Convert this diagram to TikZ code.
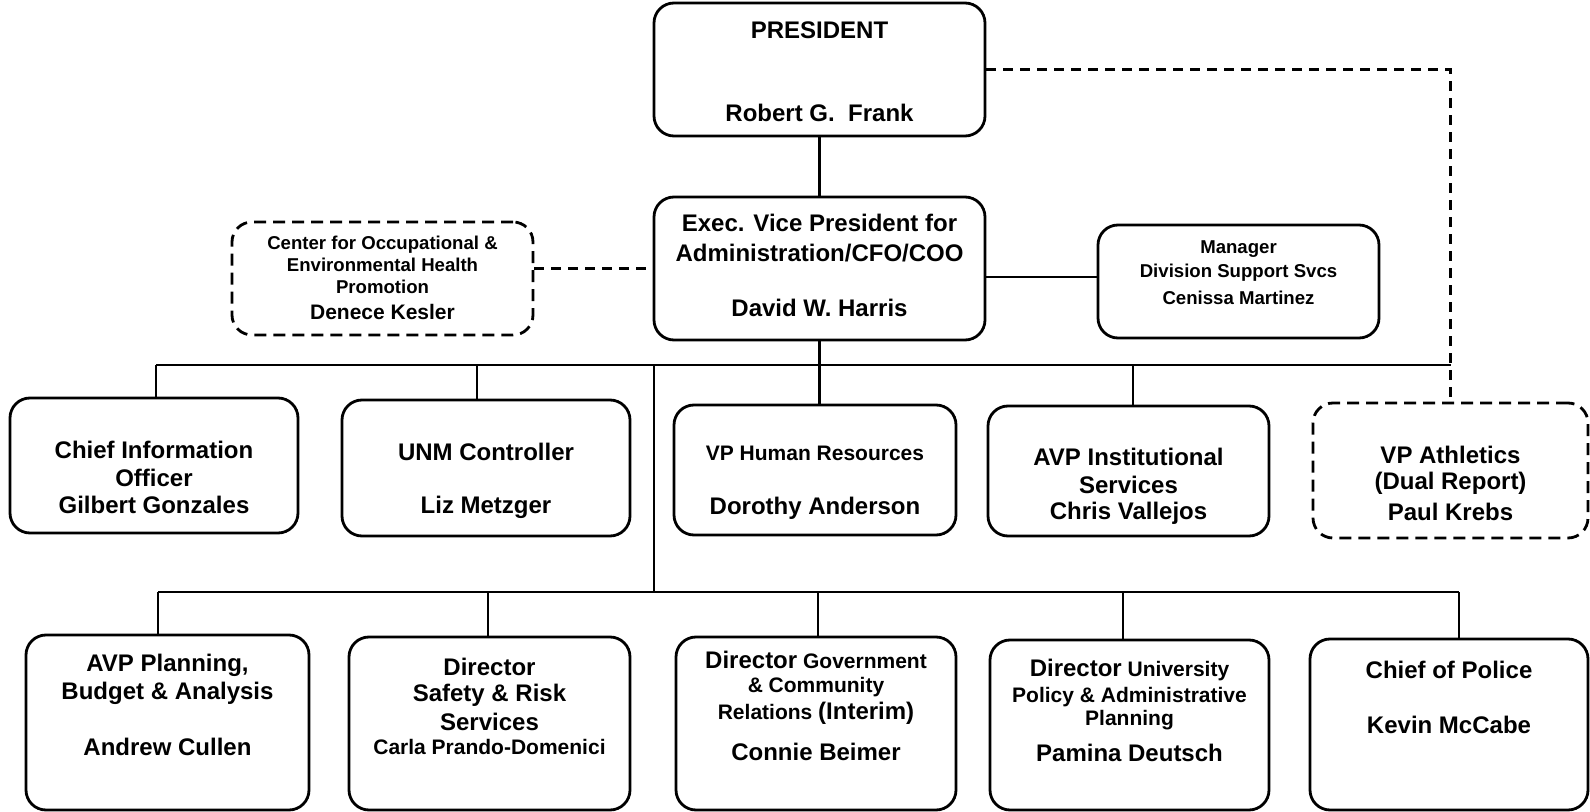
\documentclass[tikz,border=0pt]{standalone}
\usepackage{fontspec}
\setmainfont{Liberation Sans}
\usetikzlibrary{fit}
\newcommand\fsz[1]{\fontsize{#1}{#1}\selectfont}
\begin{document}
\begin{tikzpicture}[x=0.5pt,y=-0.5pt,
  box/.style={draw,line width=1.4pt,rounded corners=10pt,inner sep=0pt},
  dbox/.style={box,dash pattern=on 6pt off 3.5pt},
  conn/.style={line width=1.1pt},
  dconn/.style={conn,dash pattern=on 5pt off 3.5pt},
  big/.style={font=\bfseries\fsz{12},inner sep=0pt},
  mid/.style={font=\bfseries\fsz{10.5},inner sep=0pt},
  sml/.style={font=\bfseries\fsz{9.3},inner sep=0pt}]
\useasboundingbox (0,0) rectangle (1590,812);

% boxes
\node[box,fit={(654,3)(985,136)}] (pres) {};
\node[box,fit={(654,197)(985,340)}] (evp) {};
\node[dbox,fit={(232,222)(533,335)}] (cen) {};
\node[box,fit={(1098,225)(1379,338)}] (mgr) {};
\node[box,fit={(10,398)(298,533)}] (cio) {};
\node[box,fit={(342,400)(630,536)}] (unm) {};
\node[box,fit={(674,405)(956,535)}] (vphr) {};
\node[box,fit={(988,406)(1269,536)}] (avpis) {};
\node[dbox,fit={(1313,403)(1588,538)}] (vpath) {};
\node[box,fit={(26,635)(309,810)}] (avpp) {};
\node[box,fit={(349,637)(630,810)}] (dsr) {};
\node[box,fit={(676,637)(956,810)}] (dgov) {};
\node[box,fit={(990,640)(1269,810)}] (duniv) {};
\node[box,fit={(1310,639)(1588,810)}] (cop) {};

% texts
\node[big] (pres1) at (819.5,30) {PRESIDENT};
\node[big] (pres2) at (819.5,113) {Robert G.~ Frank};
\node[big] (evp1) at (819.5,223) {Exec. Vice President for};
\node[big] (evp2) at (819.5,253) {Administration/CFO/COO};
\node[big] (evp3) at (819.5,308) {David W. Harris};
\node[sml] (cen1) at (382.5,245) {Center for Occupational \&};
\node[sml] (cen2) at (382.5,265) {Environmental Health};
\node[sml] (cen3) at (382.5,287) {Promotion};
\node[mid] (cen4) at (382.5,312) {Denece Kesler};
\node[sml] (mgr1) at (1238.5,249) {Manager};
\node[sml] (mgr2) at (1238.5,273) {Division Support Svcs};
\node[sml] (mgr3) at (1238.5,298) {Cenissa Martinez};
\node[big] (cio1) at (154,450) {Chief Information};
\node[big] (cio2) at (154,478) {Officer};
\node[big] (cio3) at (154,505) {Gilbert Gonzales};
\node[big] (unm1) at (486,452) {UNM Controller};
\node[big] (unm2) at (486,507) {Liz Metzger};
\node[mid] (vphr1) at (815,453) {VP Human Resources};
\node[big] (vphr2) at (815,508) {Dorothy Anderson};
\node[big] (avpis1) at (1128.5,457) {AVP Institutional};
\node[big] (avpis2) at (1128.5,485) {Services};
\node[big] (avpis3) at (1128.5,513) {Chris Vallejos};
\node[big] (vpath1) at (1450.5,455) {VP Athletics};
\node[big] (vpath2) at (1450.5,483) {(Dual Report)};
\node[big] (vpath3) at (1450.5,512) {Paul Krebs};
\node[big] (avpp1) at (167.5,665) {AVP Planning,};
\node[big] (avpp2) at (167.5,693) {Budget \& Analysis};
\node[big] (avpp3) at (167.5,747) {Andrew Cullen};
\node[big] (dsr1) at (489.5,667) {Director};
\node[big] (dsr2) at (489.5,695) {Safety \& Risk};
\node[big] (dsr3) at (489.5,722) {Services};
\node[mid] (dsr4) at (489.5,747) {Carla Prando-Domenici};
\node[mid] (dgov1) at (816,660) {{\fsz{12}Director} Government};
\node[mid] (dgov2) at (816,687) {\& Community};
\node[mid] (dgov3) at (816,713) {Relations {\fsz{12}(Interim)}};
\node[big] (dgov4) at (816,752) {Connie Beimer};
\node[mid] (duniv1) at (1129.5,670) {{\fsz{12}Director} University};
\node[mid] (duniv2) at (1129.5,697) {Policy \& Administrative};
\node[mid] (duniv3) at (1129.5,720) {Planning};
\node[big] (duniv4) at (1129.5,753) {Pamina Deutsch};
\node[big] (cop1) at (1449,670) {Chief of Police};
\node[big] (cop2) at (1449,725) {Kevin McCabe};

% connectors
\draw[conn] (pres) -- (evp);
\draw[dconn] (pres.east) -| (vpath.north);
\draw[dconn] (cen.east |- evp.west) -- (evp.west);
\coordinate (m) at (1000,277);
\draw[conn] (evp.east |- m) -- (mgr.west |- m);

\coordinate (b1) at (819.5,365);
\coordinate (bl) at (156,365);
\coordinate (br) at (1450.5,365);
\coordinate (d2) at (477,365);
\coordinate (d4) at (1133,365);
\draw[conn] (evp) -- (b1);
\draw[conn] (bl) -- (br);
\draw[conn] (bl) -- (bl |- cio.north);
\draw[conn] (d2) -- (d2 |- unm.north);
\draw[conn] (b1) -- (b1 |- vphr.north);
\draw[conn] (d4) -- (d4 |- avpis.north);

\coordinate (v1) at (654,365);
\coordinate (b2) at (654,592);
\coordinate (cl2) at (158,592);
\coordinate (cr2) at (1459,592);
\coordinate (e2) at (488,592);
\coordinate (e3) at (818,592);
\coordinate (e4) at (1123,592);
\draw[conn] (v1) -- (b2);
\draw[conn] (cl2) -- (cr2);
\draw[conn] (cl2) -- (cl2 |- avpp.north);
\draw[conn] (e2) -- (e2 |- dsr.north);
\draw[conn] (e3) -- (e3 |- dgov.north);
\draw[conn] (e4) -- (e4 |- duniv.north);
\draw[conn] (cr2) -- (cr2 |- cop.north);
\end{tikzpicture}
\end{document}
